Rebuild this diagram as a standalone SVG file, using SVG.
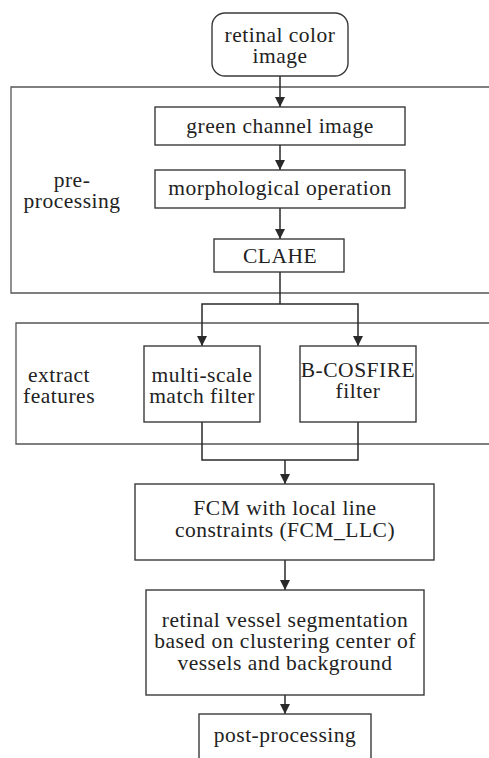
<svg xmlns="http://www.w3.org/2000/svg" width="489" height="758" viewBox="0 0 489 758">
<defs>
<marker id="ah" viewBox="0 0 10 10" refX="10" refY="5" markerWidth="10" markerHeight="10" markerUnits="userSpaceOnUse" orient="auto">
<path d="M0,0 L10,5 L0,10 z" fill="#2a2a2a"/>
</marker>
<style>
.box{fill:#fff;stroke:#3a3a3a;stroke-width:1.4}
.frame{fill:none;stroke:#555;stroke-width:1.3}
.ln{fill:none;stroke:#2a2a2a;stroke-width:1.5}
</style>
</defs>
<rect width="489" height="758" fill="#fff"/>
<g font-family="Liberation Serif, Times New Roman, DejaVu Serif, serif" font-size="21.5" letter-spacing="0.5" fill="#222" text-anchor="middle">
<g id="frame-pre">
<path class="frame" d="M490,87 H11 V293 H490"/>
<text x="72" y="187">pre-</text>
<text x="72" y="208">processing</text>
</g>
<g id="frame-extract">
<path class="frame" d="M490,323 H16 V444 H490"/>
<text x="59" y="382">extract</text>
<text x="59" y="403">features</text>
</g>
<g id="connectors">
<line class="ln" x1="280" y1="76" x2="280" y2="107" marker-end="url(#ah)"/>
<line class="ln" x1="280" y1="145" x2="280" y2="170" marker-end="url(#ah)"/>
<line class="ln" x1="280" y1="208" x2="280" y2="239" marker-end="url(#ah)"/>
<path class="ln" d="M280,272 V304"/>
<path class="ln" d="M280,304 H202 V346" marker-end="url(#ah)"/>
<path class="ln" d="M280,304 H358 V346" marker-end="url(#ah)"/>
<path class="ln" d="M202,422 V460 H358 V422"/>
<line class="ln" x1="285" y1="460" x2="285" y2="484" marker-end="url(#ah)"/>
<line class="ln" x1="285" y1="560" x2="285" y2="590" marker-end="url(#ah)"/>
<line class="ln" x1="285" y1="695" x2="285" y2="714" marker-end="url(#ah)"/>
</g>
<g id="n-retinal">
<rect class="box" x="212" y="13" width="136" height="63" rx="13"/>
<text x="280" y="42">retinal color</text>
<text x="280" y="63">image</text>
</g>
<g id="n-green">
<rect class="box" x="155" y="107" width="250" height="38"/>
<text x="280" y="133">green channel image</text>
</g>
<g id="n-morph">
<rect class="box" x="155" y="170" width="250" height="38"/>
<text x="280" y="195">morphological operation</text>
</g>
<g id="n-clahe">
<rect class="box" x="214" y="239" width="130" height="33"/>
<text x="280" y="263">CLAHE</text>
</g>
<g id="n-msmf">
<rect class="box" x="144" y="346" width="116" height="76"/>
<text x="202" y="382">multi-scale</text>
<text x="202" y="403">match filter</text>
</g>
<g id="n-bcosfire">
<rect class="box" x="300" y="346" width="116" height="76"/>
<text x="358" y="377">B-COSFIRE</text>
<text x="358" y="398">filter</text>
</g>
<g id="n-fcm">
<rect class="box" x="135" y="484" width="299" height="76"/>
<text x="285" y="515">FCM with local line</text>
<text x="285" y="537">constraints (FCM_LLC)</text>
</g>
<g id="n-seg">
<rect class="box" x="146" y="590" width="278" height="105"/>
<text x="285" y="627">retinal vessel segmentation</text>
<text x="285" y="648">based on clustering center of</text>
<text x="285" y="670">vessels and background</text>
</g>
<g id="n-post">
<rect class="box" x="199" y="714" width="172" height="60"/>
<text x="285" y="742">post-processing</text>
</g>
</g>
</svg>
